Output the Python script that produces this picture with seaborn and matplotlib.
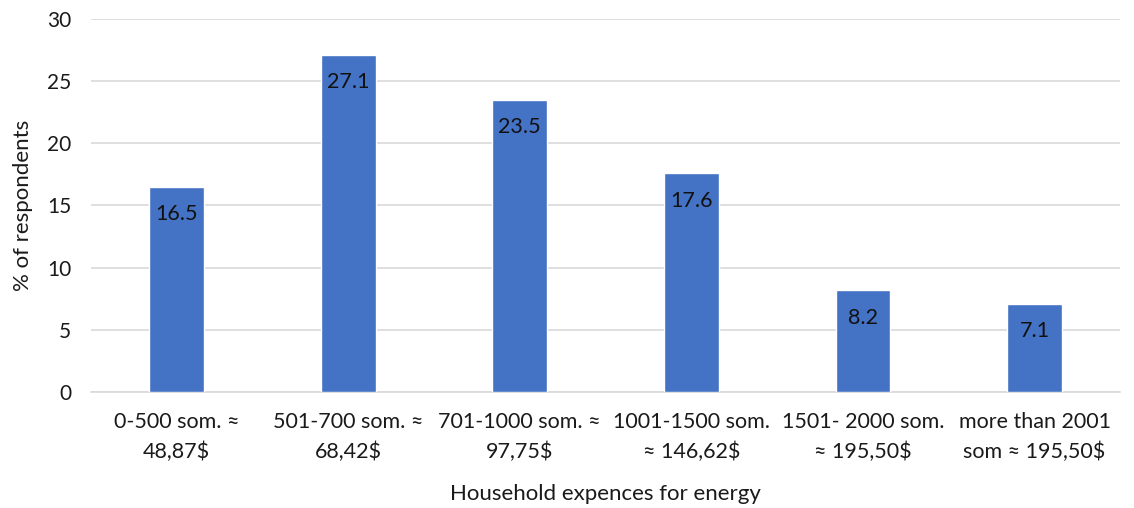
import matplotlib
matplotlib.use("Agg")
import matplotlib.pyplot as plt
import seaborn as sns
import pandas as pd

categories = [
    "0-500 som. ≈\n48,87$",
    "501-700 som. ≈\n68,42$",
    "701-1000 som. ≈\n97,75$",
    "1001-1500 som.\n≈ 146,62$",
    "1501- 2000 som.\n≈ 195,50$",
    "more than 2001\nsom ≈ 195,50$",
]
values = [16.5, 27.1, 23.5, 17.6, 8.2, 7.1]
y_ticks = [0, 5, 10, 15, 20, 25, 30]

sns.set_theme(style="white")
plt.rcParams["font.family"] = ["Lato", "DejaVu Sans"]

df = pd.DataFrame({"cat": categories, "val": values})

fig = plt.figure(figsize=(11.34, 5.08), dpi=100)
ax = fig.add_axes([0.080, 0.228, 0.908, 0.735])

sns.barplot(data=df, x="cat", y="val", color="#4472C4", saturation=1,
            width=0.32, ax=ax, zorder=3)

ax.set_ylim(0, 30)
ax.set_yticks(y_ticks)
ax.set_yticklabels([str(t) for t in y_ticks], fontsize=15, color="#1a1a1a")
ax.yaxis.grid(True, color="#d9d9d9", linewidth=1.2, zorder=0)
ax.set_axisbelow(True)
for s in ["top", "right", "left"]:
    ax.spines[s].set_visible(False)
ax.spines["bottom"].set_color("#d9d9d9")
ax.spines["bottom"].set_linewidth(1.2)
ax.tick_params(axis="y", length=0, pad=14)
ax.tick_params(axis="x", length=0, labelsize=15.5, labelcolor="#1a1a1a", pad=14)
for lbl in ax.get_xticklabels():
    lbl.set_linespacing(1.6)
ax.set_xlabel("Household expences for energy", fontsize=16, color="#1a1a1a", labelpad=16)
ax.set_ylabel("% of respondents", fontsize=16, color="#1a1a1a", labelpad=10)

for container in ax.containers:
    ax.bar_label(container, labels=[f"{v:.1f}" for v in values], padding=-27,
                 fontsize=15.5, color="#111111")

fig.savefig("out.png", dpi=100)
